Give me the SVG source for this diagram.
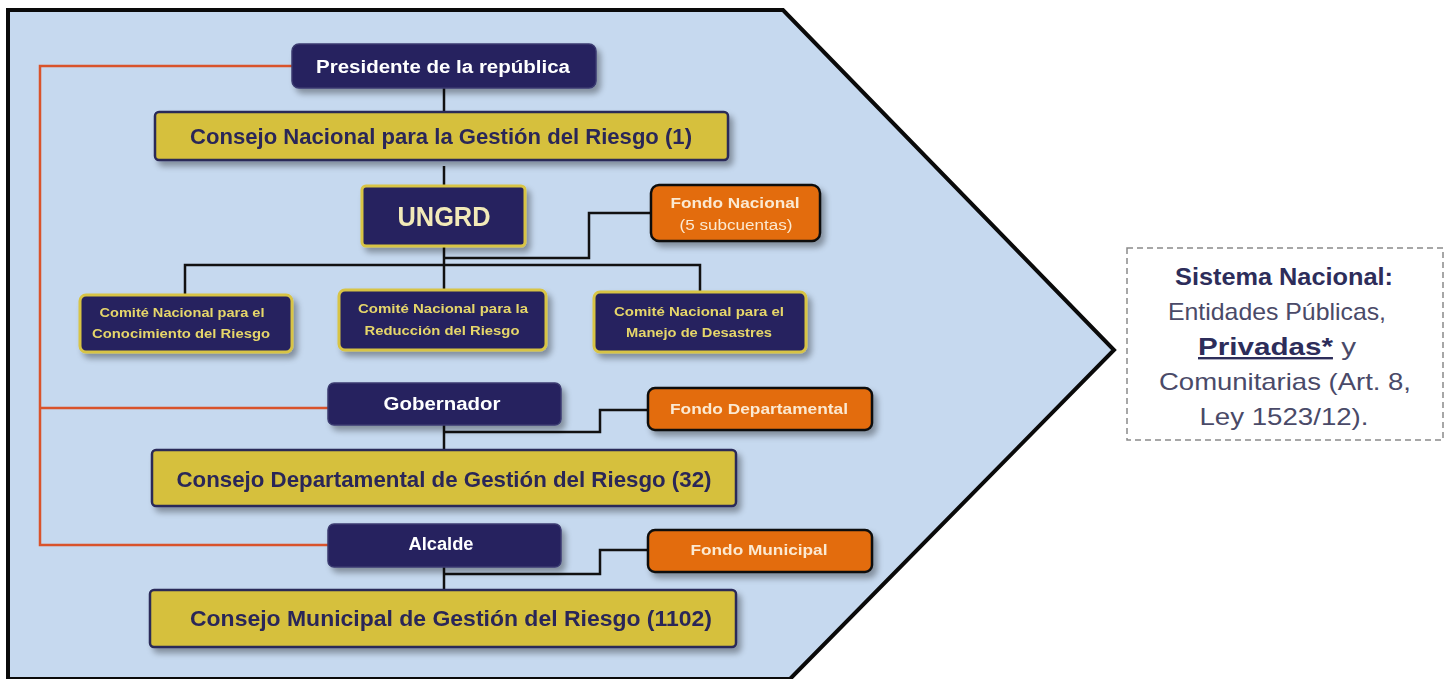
<svg xmlns="http://www.w3.org/2000/svg" width="1449" height="679" viewBox="0 0 1449 679">
<defs>
<filter id="sh" x="-10%" y="-20%" width="130%" height="160%">
<feGaussianBlur in="SourceAlpha" stdDeviation="3"/>
<feOffset dx="4" dy="5" result="b"/>
<feComponentTransfer><feFuncA type="linear" slope="0.35"/></feComponentTransfer>
<feMerge><feMergeNode/><feMergeNode in="SourceGraphic"/></feMerge>
</filter>
<style>
.navy{fill:#25235f;stroke:#3a3a70;stroke-width:1.5}
.navyg{fill:#25235f;stroke:#d8c444;stroke-width:3}
.gold{fill:#d6c03c;stroke:#2a2a58;stroke-width:2.5}
.orange{fill:#e36c0a;stroke:#111;stroke-width:2.5}
.wt{font-family:"Liberation Sans",Arial,sans-serif;font-weight:bold;fill:#ffffff;text-anchor:middle}
.gt{font-family:"Liberation Sans",Arial,sans-serif;font-weight:bold;fill:#2a2858;text-anchor:middle}
.yt{font-family:"Liberation Sans",Arial,sans-serif;font-weight:bold;fill:#e6d66a;text-anchor:middle}
.ot{font-family:"Liberation Sans",Arial,sans-serif;font-weight:bold;fill:#fbe9d2;text-anchor:middle}
.rt{font-family:"Liberation Sans",Arial,sans-serif;fill:#4a4a68;text-anchor:middle;font-size:24px}
.blk{fill:none;stroke:#111;stroke-width:2.5}
.red{fill:none;stroke:#d9532b;stroke-width:2.5}
</style>
</defs>
<rect width="1449" height="679" fill="#ffffff"/>
<polygon id="bg" points="8,10 783,10 1114,350 790,679 8,679" fill="#c6d9ef" stroke="#0a0a0a" stroke-width="4"/>

<g id="connectors">
<polyline class="red" points="292,66 40,66 40,545 328,545"/>
<line class="red" x1="40" y1="408" x2="328" y2="408"/>
<line class="blk" x1="444" y1="88" x2="444" y2="112"/>
<line class="blk" x1="444" y1="166" x2="444" y2="186"/>
<line class="blk" x1="444" y1="246" x2="444" y2="290"/>
<polyline class="blk" points="185,295 185,265 700,265 700,292"/>
<polyline class="blk" points="444,258 589,258 589,213 651,213"/>
<line class="blk" x1="444" y1="425" x2="444" y2="450"/>
<polyline class="blk" points="444,432 600,432 600,410 648,410"/>
<line class="blk" x1="444" y1="567" x2="444" y2="590"/>
<polyline class="blk" points="444,574 600,574 600,550 648,550"/>
</g>

<g id="presidente" filter="url(#sh)">
<rect class="navy" x="292" y="44" width="304" height="44" rx="7"/>
<text class="wt" x="443" y="73" font-size="18" textLength="254" lengthAdjust="spacingAndGlyphs">Presidente de la república</text>
</g>
<g id="consejo-nacional" filter="url(#sh)">
<rect class="gold" x="155" y="112" width="573" height="48" rx="4"/>
<text class="gt" x="441" y="144" font-size="22" textLength="502" lengthAdjust="spacingAndGlyphs">Consejo Nacional  para la Gestión del Riesgo (1)</text>
</g>
<g id="ungrd" filter="url(#sh)">
<rect class="navyg" x="362" y="186" width="163" height="60" rx="4"/>
<text class="yt" x="444" y="226" font-size="27" textLength="93" lengthAdjust="spacingAndGlyphs" style="fill:#f2eab8">UNGRD</text>
</g>
<g id="fondo-nacional" filter="url(#sh)">
<rect class="orange" x="651" y="185" width="169" height="56" rx="8"/>
<text class="ot" x="735" y="208" font-size="14" textLength="129" lengthAdjust="spacingAndGlyphs">Fondo Nacional</text>
<text class="ot" x="736" y="230" font-size="14" textLength="113" lengthAdjust="spacingAndGlyphs" style="font-weight:normal">(5 subcuentas)</text>
</g>
<g id="comite-conocimiento" filter="url(#sh)">
<rect class="navyg" x="80" y="295" width="212" height="57" rx="6"/>
<text class="yt" x="182" y="317" font-size="12.5" textLength="165" lengthAdjust="spacingAndGlyphs">Comité Nacional  para el</text>
<text class="yt" x="181" y="338" font-size="12.5" textLength="178" lengthAdjust="spacingAndGlyphs">Conocimiento del Riesgo</text>
</g>
<g id="comite-reduccion" filter="url(#sh)">
<rect class="navyg" x="339" y="290" width="207" height="60" rx="6"/>
<text class="yt" x="443" y="313" font-size="12.5" textLength="170" lengthAdjust="spacingAndGlyphs">Comité Nacional  para la</text>
<text class="yt" x="442" y="335" font-size="12.5" textLength="155" lengthAdjust="spacingAndGlyphs">Reducción  del Riesgo</text>
</g>
<g id="comite-manejo" filter="url(#sh)">
<rect class="navyg" x="594" y="292" width="212" height="60" rx="6"/>
<text class="yt" x="699" y="316" font-size="12.5" textLength="170" lengthAdjust="spacingAndGlyphs">Comité Nacional  para el</text>
<text class="yt" x="699" y="337" font-size="12.5" textLength="146" lengthAdjust="spacingAndGlyphs">Manejo de Desastres</text>
</g>
<g id="gobernador" filter="url(#sh)">
<rect class="navy" x="328" y="383" width="233" height="42" rx="6"/>
<text class="wt" x="442" y="410" font-size="18" textLength="117" lengthAdjust="spacingAndGlyphs">Gobernador</text>
</g>
<g id="fondo-departamental" filter="url(#sh)">
<rect class="orange" x="648" y="388" width="224" height="42" rx="7"/>
<text class="ot" x="759" y="414" font-size="14" textLength="178" lengthAdjust="spacingAndGlyphs">Fondo Departamental</text>
</g>
<g id="consejo-departamental" filter="url(#sh)">
<rect class="gold" x="152" y="450" width="584" height="56" rx="4"/>
<text class="gt" x="444" y="487" font-size="22" textLength="535" lengthAdjust="spacingAndGlyphs">Consejo Departamental de Gestión del Riesgo (32)</text>
</g>
<g id="alcalde" filter="url(#sh)">
<rect class="navy" x="328" y="524" width="233" height="43" rx="6"/>
<text class="wt" x="441" y="550" font-size="18" textLength="65" lengthAdjust="spacingAndGlyphs">Alcalde</text>
</g>
<g id="fondo-municipal" filter="url(#sh)">
<rect class="orange" x="648" y="530" width="224" height="42" rx="7"/>
<text class="ot" x="759" y="555" font-size="14" textLength="137" lengthAdjust="spacingAndGlyphs">Fondo Municipal</text>
</g>
<g id="consejo-municipal" filter="url(#sh)">
<rect class="gold" x="150" y="590" width="586" height="57" rx="4"/>
<text class="gt" x="451" y="626" font-size="22" textLength="522" lengthAdjust="spacingAndGlyphs">Consejo Municipal de Gestión del Riesgo (1102)</text>
</g>

<g id="sistema-nacional">
<rect x="1127" y="248" width="316" height="192" fill="#ffffff" stroke="#8a8a8a" stroke-width="1.5" stroke-dasharray="6,4"/>
<text class="rt" x="1284" y="285" font-weight="bold" textLength="218" lengthAdjust="spacingAndGlyphs" style="fill:#2d2d5a">Sistema Nacional:</text>
<text class="rt" x="1277" y="320" textLength="218" lengthAdjust="spacingAndGlyphs">Entidades Públicas,</text>
<text class="rt" x="1277" y="355" textLength="158" lengthAdjust="spacingAndGlyphs"><tspan font-weight="bold" text-decoration="underline" style="fill:#2d2d5a">Privadas*</tspan> y</text>
<text class="rt" x="1285" y="390" textLength="252" lengthAdjust="spacingAndGlyphs">Comunitarias (Art. 8,</text>
<text class="rt" x="1284" y="425" textLength="169" lengthAdjust="spacingAndGlyphs">Ley 1523/12).</text>
</g>
</svg>
